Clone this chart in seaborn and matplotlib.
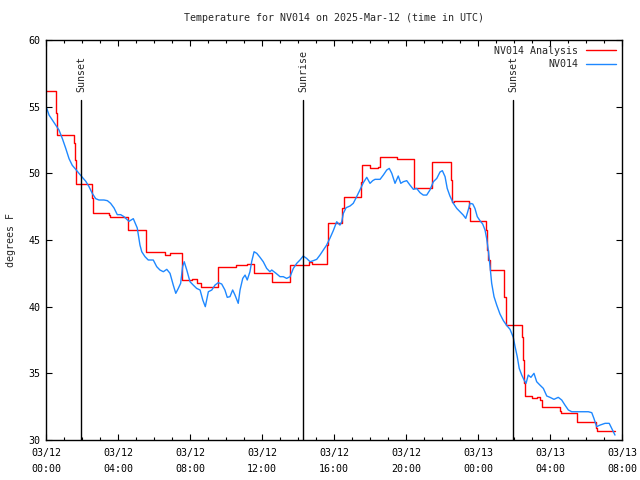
import pandas as pd
import matplotlib
matplotlib.use('Agg')
import matplotlib.pyplot as plt
import matplotlib.dates as mdates
import seaborn as sns

# hours after 2025-03-12 00:00 UTC
analysis_hours = [0.0, 0.54, 0.63, 1.56, 1.61, 1.68, 2.57, 2.63, 3.5, 3.58,
                  4.55, 5.58, 6.6, 6.9, 7.57, 8.1, 8.4, 8.6, 9.55, 10.55,
                  11.15, 11.55, 12.57, 13.55, 14.6, 14.75, 15.62, 15.67, 16.45, 16.55,
                  17.5, 17.58, 17.98, 18.45, 18.53, 19.52, 20.45, 21.45, 22.5, 22.56,
                  22.65, 23.48, 23.55, 24.45, 24.52, 24.58, 24.64, 25.47, 25.55, 26.45,
                  26.52, 26.57, 26.62, 26.98, 27.25, 27.47, 27.58, 28.55, 28.62, 29.5,
                  30.55, 30.62, 31.6]
analysis_temp = [56.15, 54.55, 52.87, 52.25, 51.0, 49.17, 48.15, 47.0, 46.85, 46.75,
                 45.75, 44.12, 43.87, 44.0, 42.0, 42.07, 41.8, 41.45, 42.95, 43.12,
                 43.17, 42.5, 41.87, 43.12, 43.37, 43.2, 44.62, 46.25, 47.37, 48.25,
                 49.37, 50.62, 50.37, 50.5, 51.2, 51.05, 48.87, 50.87, 49.5, 47.87,
                 47.95, 47.37, 46.45, 45.75, 44.25, 43.5, 42.75, 40.75, 38.62, 37.75,
                 36.0, 34.25, 33.3, 33.17, 33.2, 33.0, 32.45, 32.2, 32.0, 31.33,
                 30.9, 30.65, 30.65]

obs_hours = [0.04, 0.17, 0.35, 0.54, 0.72, 0.91, 1.09, 1.28, 1.46, 1.65,
             1.83, 2.02, 2.21, 2.39, 2.57, 2.76, 2.94, 3.22, 3.41, 3.59,
             3.78, 3.96, 4.15, 4.33, 4.61, 4.85, 5.07, 5.22, 5.32, 5.5,
             5.68, 5.96, 6.15, 6.33, 6.52, 6.71, 6.89, 7.07, 7.21, 7.35,
             7.48, 7.59, 7.68, 7.82, 8.0, 8.18, 8.37, 8.56, 8.71, 8.85,
             9.02, 9.21, 9.39, 9.57, 9.76, 9.94, 10.07, 10.22, 10.37, 10.5,
             10.68, 10.78, 10.93, 11.06, 11.18, 11.33, 11.43, 11.56, 11.71, 11.89,
             12.07, 12.26, 12.44, 12.54, 12.78, 13.0, 13.18, 13.37, 13.56, 13.74,
             13.93, 14.11, 14.29, 14.48, 14.67, 14.85, 15.04, 15.22, 15.41, 15.59,
             15.78, 15.96, 16.15, 16.33, 16.43, 16.52, 16.67, 16.89, 17.07, 17.26,
             17.44, 17.63, 17.82, 18.0, 18.15, 18.28, 18.56, 18.74, 18.93, 19.07,
             19.21, 19.39, 19.57, 19.71, 19.85, 20.04, 20.22, 20.41, 20.59, 20.78,
             20.96, 21.15, 21.33, 21.52, 21.71, 21.89, 22.02, 22.17, 22.29, 22.44,
             22.63, 22.82, 23.0, 23.18, 23.32, 23.43, 23.56, 23.71, 23.83, 23.96,
             24.11, 24.26, 24.39, 24.48, 24.57, 24.67, 24.76, 24.89, 25.04, 25.22,
             25.41, 25.59, 25.78, 25.96, 26.06, 26.18, 26.29, 26.43, 26.56, 26.67,
             26.79, 26.94, 27.11, 27.26, 27.44, 27.63, 27.82, 28.0, 28.22, 28.46,
             28.65, 28.83, 29.02, 29.21, 29.48, 29.76, 30.13, 30.32, 30.44, 30.59,
             30.78, 31.06, 31.29, 31.43, 31.61]
obs_temp = [54.88, 54.37, 54.0, 53.6, 53.25, 52.6, 51.9, 51.1, 50.6, 50.3,
            50.0, 49.7, 49.4, 49.0, 48.5, 48.1, 48.0, 48.0, 47.95, 47.75,
            47.4, 46.9, 46.9, 46.75, 46.4, 46.6, 45.9, 44.62, 44.12, 43.75,
            43.5, 43.5, 43.0, 42.75, 42.62, 42.8, 42.5, 41.62, 41.0, 41.37,
            41.75, 43.0, 43.37, 42.75, 41.87, 41.62, 41.37, 41.25, 40.5, 40.0,
            41.12, 41.25, 41.62, 41.8, 41.7, 41.25, 40.7, 40.75, 41.25, 40.87,
            40.25, 41.25, 42.12, 42.37, 42.0, 42.62, 43.4, 44.12, 44.0, 43.7,
            43.37, 42.87, 42.62, 42.75, 42.5, 42.25, 42.25, 42.12, 42.25, 42.87,
            43.25, 43.5, 43.8, 43.62, 43.37, 43.45, 43.55, 43.87, 44.25, 44.62,
            45.15, 45.7, 46.37, 46.12, 46.37, 47.0, 47.42, 47.55, 47.75, 48.25,
            48.75, 49.3, 49.7, 49.25, 49.45, 49.55, 49.55, 49.87, 50.25, 50.37,
            50.0, 49.25, 49.8, 49.25, 49.37, 49.45, 49.12, 48.8, 48.87, 48.55,
            48.37, 48.37, 48.75, 49.37, 49.62, 50.1, 50.2, 49.75, 48.87, 48.3,
            47.75, 47.37, 47.12, 46.87, 46.62, 47.12, 47.75, 47.7, 47.37, 46.75,
            46.45, 46.2, 45.75, 45.12, 44.25, 43.0, 41.75, 40.75, 40.12, 39.45,
            38.95, 38.6, 38.3, 37.7, 37.0, 36.25, 35.37, 34.87, 34.5, 34.25,
            34.87, 34.7, 35.0, 34.37, 34.12, 33.87, 33.3, 33.2, 33.05, 33.2,
            33.0, 32.62, 32.25, 32.12, 32.12, 32.12, 32.12, 32.05, 31.62, 31.0,
            31.12, 31.25, 31.25, 30.87, 30.37]

sun_hours = [1.95, 14.28, 25.97]
sun_labels = ['Sunset', 'Sunrise', 'Sunset']

base = pd.Timestamp('2025-03-12 00:00')
ana = pd.DataFrame({'time': base + pd.to_timedelta(analysis_hours, unit='h'), 'temp': analysis_temp})
obs = pd.DataFrame({'time': base + pd.to_timedelta(obs_hours, unit='h'), 'temp': obs_temp})

sns.set_style('ticks')
plt.rcParams['font.family'] = ['DejaVu Sans Mono']
plt.rcParams['font.size'] = 7.2

fig = plt.figure(figsize=(6.4, 4.8), dpi=100)
ax = fig.add_axes([46 / 640, 40 / 480, 576 / 640, 400 / 480])

sns.lineplot(data=ana, x='time', y='temp', ax=ax, color='#ff0000', lw=1.0,
             drawstyle='steps-post', label='NV014 Analysis')
sns.lineplot(data=obs, x='time', y='temp', ax=ax, color='#1e88ff', lw=1.0,
             label='NV014')

for h, lab in zip(sun_hours, sun_labels):
    t = base + pd.Timedelta(hours=h)
    ax.axvline(t, ymin=0, ymax=0.85, color='black', lw=1.0)
    ax.text(t, 0.87, lab, transform=ax.get_xaxis_transform(), rotation=90,
            ha='center', va='bottom', fontsize=7.2)

ax.set_xlim(base, base + pd.Timedelta(hours=32))
ax.set_ylim(30, 60)
ax.set_yticks(range(30, 61, 5))
ax.xaxis.set_major_locator(mdates.HourLocator(byhour=range(0, 24, 4)))
ax.xaxis.set_minor_locator(mdates.HourLocator())
ax.xaxis.set_major_formatter(mdates.DateFormatter('%m/%d\n%H:%M'))
for lbl in ax.get_xticklabels():
    lbl.set_linespacing(1.7)

ax.tick_params(which='both', direction='in', top=True, right=True, width=0.8, colors='black')
ax.tick_params(which='major', length=4.5)
ax.tick_params(which='minor', length=2.5)
ax.tick_params(axis='x', which='major', pad=6)
ax.tick_params(axis='y', which='major', pad=4)
for s in ax.spines.values():
    s.set_visible(True)
    s.set_linewidth(1.0)
    s.set_color('black')

ax.set_xlabel('')
ax.set_ylabel('degrees F', labelpad=9)
ax.set_title('Temperature for NV014 on 2025-Mar-12 (time in UTC)', pad=14, fontsize=7.2)
ax.legend(loc='upper right', frameon=False, markerfirst=False, fontsize=7.2,
          handlelength=3.0, labelspacing=0.35, borderaxespad=0.2)

fig.savefig('out.png', dpi=100)
